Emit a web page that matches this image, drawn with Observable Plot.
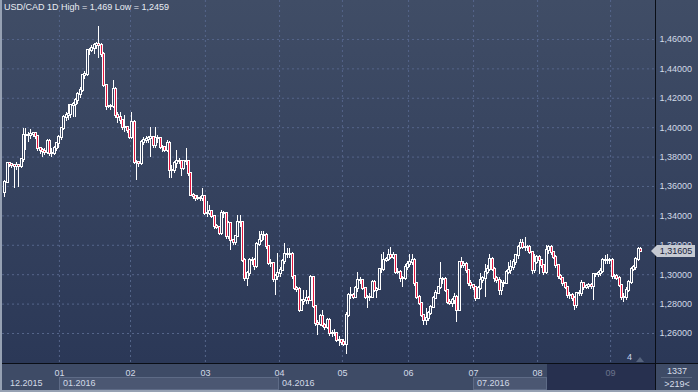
<!DOCTYPE html>
<html><head><meta charset="utf-8">
<script src="https://cdn.jsdelivr.net/npm/d3@7"></script>
<script src="https://cdn.jsdelivr.net/npm/@observablehq/plot@0.6"></script>
<style>
html,body{margin:0;padding:0;background:#2c3956;}
#wrap{position:relative;width:698px;height:392px;overflow:hidden;font-family:"Liberation Sans",Arial,sans-serif;font-size:9px;}
.abs{position:absolute;box-sizing:border-box;white-space:nowrap;}
</style></head>
<body><div id="wrap"></div>
<script>
// ---- data ----
const title = "USD/CAD 1D High = 1,469 Low = 1,2459";
const firstOpen = 1.3562;
const close = [
1.3629,1.3754,1.3749,1.3742,1.3736,1.3740,1.3736,1.3781,1.3946,1.3950,1.3946,
1.3953,1.3957,1.3939,1.3855,1.3844,1.3840,1.3833,1.3907,1.3821,1.3826,
1.3855,1.3889,1.3934,1.3991,1.4070,1.4081,1.4093,1.4149,1.4160,1.4183,
1.4228,1.4255,1.4353,1.4364,1.4522,1.4527,1.4540,1.4556,1.4563,1.4556,1.4500,
1.4285,1.4142,1.4142,1.4142,1.4262,1.4081,1.4066,1.4047,1.4002,1.4002,
1.3980,1.3934,1.4036,1.3765,1.3765,1.3754,1.3901,1.3912,1.3918,1.3923,1.3934,
1.3878,1.3923,1.3923,1.3867,1.3862,1.3846,1.3891,1.3710,1.3710,1.3755,
1.3767,1.3773,1.3721,1.3767,1.3771,1.3687,1.3540,1.3529,1.3515,1.3520,1.3518,
1.3533,1.3416,1.3416,1.3427,1.3393,1.3325,1.3320,1.3280,1.3416,1.3416,
1.3257,1.3348,1.3234,1.3216,1.3257,1.3352,1.3352,1.3099,1.2974,1.3008,
1.3099,1.3099,1.3053,1.3207,1.3234,1.3268,1.3268,1.3189,1.3076,1.3076,
1.2969,1.2985,1.3008,1.3031,1.3087,1.3139,1.3139,1.3139,1.2985,1.2906,
1.2899,1.2759,1.2815,1.2827,1.2838,1.2827,1.2981,1.2781,1.2667,1.2664,
1.2714,1.2655,1.2640,1.2689,1.2599,1.2599,1.2603,1.2554,1.2554,1.2542,
1.2527,1.2723,1.2858,1.2858,1.2847,1.2903,1.2959,1.2959,1.2903,1.2847,
1.2842,1.2847,1.2948,1.2892,1.2896,1.3032,1.3032,1.3095,1.3106,
1.3128,1.3117,1.3128,1.3016,1.3016,1.2971,1.2971,1.3050,1.3072,1.3083,
1.3095,1.2937,1.2847,1.2802,1.2723,1.2689,1.2700,1.2734,1.2779,
1.2835,1.2869,1.2910,1.2964,1.2964,1.2892,1.2813,1.2806,1.2824,
1.2847,1.2757,1.3083,1.3061,1.3072,1.3027,1.2937,1.2926,1.2910,
1.2835,1.2903,1.2959,1.2971,1.3016,1.3038,1.3106,1.3038,1.2971,1.2959,
1.2892,1.2937,1.2937,1.3016,1.3027,1.3050,1.3083,1.3128,1.3185,1.3212,
1.3185,1.3185,1.3185,1.3151,1.3027,1.3083,1.3117,1.3095,1.3061,1.3016,
1.3162,1.3185,1.3151,1.3117,1.3061,1.2986,1.2977,1.2937,1.2914,1.2858,
1.2858,1.2835,1.2790,1.2869,1.2869,1.2937,1.2914,1.2919,1.2926,1.2919,
1.3000,1.3000,1.3009,1.3023,1.3095,1.3095,1.3099,1.3099,1.2986,1.2986,
1.2977,1.2926,1.2847,1.2847,1.2892,1.2948,1.3038,1.3050,1.3106,1.3174,
1.31605
];
const high = [
1.3640,1.3765,1.3765,1.3755,1.3750,1.3760,1.3750,1.3790,1.3991,1.3996,1.3970,
1.3990,1.3970,1.3965,1.3940,1.3865,1.3860,1.3855,1.3920,1.3920,1.3860,
1.3870,1.3900,1.3945,1.4000,1.4080,1.4100,1.4160,1.4160,1.4170,1.4200,
1.4240,1.4270,1.4365,1.4380,1.4535,1.4540,1.4560,1.4570,1.4580,1.4690,1.4570,
1.4510,1.4290,1.4150,1.4160,1.4323,1.4270,1.4100,1.4100,1.4050,1.4080,
1.4010,1.3990,1.4104,1.4050,1.3780,1.3770,1.3910,1.3930,1.3940,1.3940,1.4002,
1.3940,1.4002,1.3950,1.3930,1.3880,1.3870,1.3914,1.3903,1.3740,1.3770,
1.3846,1.3790,1.3780,1.3780,1.3857,1.3780,1.3690,1.3550,1.3530,1.3540,1.3530,
1.3586,1.3540,1.3495,1.3472,1.3430,1.3400,1.3340,1.3330,1.3438,1.3430,
1.3420,1.3360,1.3350,1.3240,1.3270,1.3404,1.3404,1.3360,1.3110,1.3020,
1.3110,1.3120,1.3110,1.3220,1.3291,1.3291,1.3291,1.3280,1.3200,1.3100,
1.3080,1.3000,1.3144,1.3050,1.3100,1.3212,1.3178,1.3178,1.3150,1.2990,
1.2920,1.2910,1.2830,1.2895,1.2895,1.2850,1.2995,1.2990,1.2790,1.2690,
1.2730,1.2757,1.2670,1.2700,1.2700,1.2620,1.2630,1.2610,1.2580,1.2560,
1.2560,1.2740,1.2870,1.2914,1.2870,1.2920,1.3016,1.2980,1.2970,1.2910,
1.2860,1.2870,1.2960,1.2960,1.2910,1.3040,1.3140,1.3151,1.3120,
1.3174,1.3185,1.3150,1.3140,1.3040,1.3030,1.2990,1.3070,1.3090,1.3140,
1.3140,1.3110,1.2950,1.2860,1.2810,1.2730,1.2768,1.2750,1.2790,
1.2850,1.2890,1.2920,1.3083,1.2980,1.2980,1.2900,1.2830,1.2840,
1.2870,1.2860,1.3090,1.3117,1.3090,1.3080,1.3030,1.2960,1.2930,
1.2920,1.2920,1.3005,1.2990,1.3072,1.3060,1.3140,1.3120,1.3050,1.2990,
1.2980,1.2960,1.2960,1.3030,1.3083,1.3095,1.3100,1.3140,1.3200,1.3241,
1.3241,1.3252,1.3200,1.3200,1.3160,1.3140,1.3130,1.3130,1.3100,1.3070,
1.3200,1.3200,1.3200,1.3160,1.3130,1.3070,1.3000,1.2980,1.2950,1.2920,
1.2880,1.2870,1.2850,1.2880,1.2890,1.2960,1.2950,1.2930,1.2940,1.2940,
1.3010,1.3010,1.3020,1.3040,1.3110,1.3128,1.3140,1.3110,1.3110,1.3000,
1.3000,1.2990,1.2930,1.2870,1.2910,1.2960,1.3050,1.3060,1.3120,1.3185,
1.3185
];
const low = [
1.3528,1.3618,1.3730,1.3720,1.3584,1.3710,1.3595,1.3720,1.3760,1.3844,1.3900,
1.3920,1.3930,1.3920,1.3840,1.3820,1.3799,1.3810,1.3820,1.3805,1.3800,
1.3810,1.3840,1.3860,1.3910,1.3980,1.4040,1.4050,1.4060,1.4070,1.4070,
1.4160,1.4200,1.4240,1.4330,1.4350,1.4490,1.4510,1.4500,1.4530,1.4470,1.4480,
1.4270,1.4120,1.4130,1.4120,1.4130,1.4060,1.4030,1.4020,1.3980,1.3970,
1.3960,1.3920,1.3920,1.3750,1.3641,1.3730,1.3740,1.3880,1.3890,1.3890,1.3799,
1.3860,1.3860,1.3890,1.3850,1.3830,1.3830,1.3830,1.3653,1.3653,1.3690,
1.3720,1.3750,1.3665,1.3710,1.3740,1.3670,1.3530,1.3510,1.3500,1.3505,1.3500,
1.3500,1.3400,1.3390,1.3400,1.3380,1.3310,1.3310,1.3270,1.3270,1.3380,
1.3240,1.3240,1.3166,1.3200,1.3200,1.3250,1.3320,1.3080,1.2955,1.2917,
1.2990,1.3060,1.3030,1.3040,1.3190,1.3220,1.3230,1.3170,1.3060,1.3050,
1.2950,1.2861,1.2960,1.2980,1.3020,1.3070,1.3110,1.3110,1.2970,1.2890,
1.2880,1.2740,1.2747,1.2790,1.2800,1.2800,1.2820,1.2770,1.2650,1.2589,
1.2650,1.2640,1.2620,1.2630,1.2580,1.2570,1.2580,1.2540,1.2509,1.2520,
1.2510,1.2459,1.2710,1.2830,1.2830,1.2840,1.2880,1.2930,1.2890,1.2830,
1.2768,1.2820,1.2840,1.2880,1.2835,1.2890,1.3010,1.3020,1.3080,
1.3090,1.3100,1.3100,1.3000,1.3000,1.2950,1.2910,1.2960,1.3030,1.3050,
1.3060,1.2920,1.2830,1.2790,1.2710,1.2655,1.2655,1.2680,1.2720,
1.2770,1.2830,1.2870,1.2900,1.2930,1.2880,1.2800,1.2790,1.2780,
1.2800,1.2678,1.2750,1.3040,1.3040,1.3010,1.2920,1.2900,1.2890,
1.2820,1.2830,1.2890,1.2940,1.2847,1.3000,1.3020,1.3020,1.2950,1.2940,
1.2858,1.2858,1.2910,1.2930,1.3000,1.3000,1.3030,1.3060,1.3100,1.3170,
1.3170,1.3160,1.3160,1.3140,1.3000,1.3010,1.3070,1.3000,1.3040,1.2995,
1.3000,1.3140,1.3130,1.3100,1.3040,1.2970,1.2960,1.2920,1.2900,1.2840,
1.2830,1.2820,1.2757,1.2768,1.2850,1.2850,1.2890,1.2900,1.2900,1.2900,
1.2824,1.2980,1.2980,1.2990,1.3010,1.3070,1.3070,1.3070,1.2970,1.2970,
1.2960,1.2910,1.2824,1.2813,1.2824,1.2880,1.2930,1.3020,1.3030,1.3090,
1.3150
];
const monthTicks = [23.2, 53.4, 85.2, 116.7, 143.4, 171.5, 199.1, 226.3, 257.3];
const monthLabels = ["01","02","03","04","05","06","07","08","09"];
const periodLabels = ["12.2015","01.2016","04.2016","07.2016"];
const yTicks = [1.26,1.28,1.30,1.32,1.34,1.36,1.38,1.40,1.42,1.44,1.46];
const lastPrice = 1.31605;
const barsLabel = "4";
const footerTop = "1337";
const footerBottom = ">219<";
const shadeStart = 230.5;

// ---- build ----
const n = Math.min(close.length, high.length, low.length);
const candles = [];
for (let i = 0; i < n; i++) {
  const o = i === 0 ? firstOpen : close[i - 1];
  const c = close[i];
  candles.push({i, o, c, h: high[i], l: low[i], top: Math.max(o, c), bot: Math.min(o, c), down: c < o});
}
const fmt = d => d.toFixed(5).replace(".", ",");
const gridColor = "#55658a";
const labelColor = "#d2dae7";

const chart = Plot.plot({
  width: 698, height: 392,
  marginLeft: 2, marginRight: 43, marginTop: 0, marginBottom: 29,
  style: {background: "transparent", fontFamily: "'Liberation Sans', Arial, sans-serif", fontSize: "9px", overflow: "visible"},
  x: {type: "linear", domain: [-0.977, 276.38], label: null},
  y: {domain: [1.2396, 1.4865], label: null},
  marks: [
    Plot.gridY(yTicks, {stroke: gridColor, strokeOpacity: 1, strokeDasharray: "2,3"}),
    Plot.gridX(monthTicks, {stroke: gridColor, strokeOpacity: 1, strokeDasharray: "2,3"}),
    Plot.ruleX(candles, {x: "i", y1: "h", y2: "l", stroke: "#ffffff", strokeWidth: 1, shapeRendering: "crispEdges"}),
    Plot.ruleX(candles, {x: "i", y1: "top", y2: "bot", stroke: "#ffffff", strokeWidth: 3, insetTop: -1, insetBottom: -1, shapeRendering: "crispEdges"}),
    Plot.ruleX(candles.filter(d => d.down), {x: "i", y1: "top", y2: "bot", stroke: "#e3163e", strokeWidth: 1, shapeRendering: "crispEdges"}),
    Plot.ruleX(candles.filter(d => !d.down), {x: "i", y1: "top", y2: "bot", stroke: "#34425f", strokeWidth: 1, shapeRendering: "crispEdges"}),
    Plot.axisY(yTicks, {anchor: "right", tickSize: 0, tickPadding: 4, tickFormat: fmt, fill: labelColor, fontSize: 9}),
    Plot.axisX(monthTicks, {anchor: "bottom", tickSize: 0, tickPadding: 6, tickFormat: d => monthLabels[monthTicks.indexOf(d)], fill: labelColor, fontSize: 9})
  ]
});

const wrap = document.getElementById("wrap");
function add(css, text) {
  const el = document.createElement("div");
  el.className = "abs";
  el.style.cssText = css;
  if (text != null) el.textContent = text;
  wrap.appendChild(el);
  return el;
}
const X = v => chart.scale("x").apply(v);
const Y = v => chart.scale("y").apply(v);

// backgrounds
add("left:0;top:0;width:655px;height:363px;background:linear-gradient(#404d66,#2b3857);");
add("left:655px;top:0;width:43px;height:363px;background:linear-gradient(#404d66,#2b3857);");
add("left:0;top:363px;width:698px;height:29px;background:#3e4b66;");
// period boxes
const b1 = X(monthTicks[0]), b2 = X(monthTicks[3]), b3 = X(monthTicks[6]), sx = X(shadeStart);
add(`left:${b1}px;top:377px;width:${b2 - b1}px;height:13px;background:#4b5772;border:1px solid #5e6b86;`);
add(`left:${b3}px;top:377px;width:${sx - b3}px;height:13px;background:#4b5772;border:1px solid #5e6b86;`);
// svg
chart.style.position = "absolute";
chart.style.left = "0px";
chart.style.top = "0px";
wrap.appendChild(chart);
// period labels
add(`left:10px;top:378px;color:${labelColor};line-height:11px;`, periodLabels[0]);
add(`left:${b1 + 4}px;top:378px;color:${labelColor};line-height:11px;`, periodLabels[1]);
add(`left:${b2 + 3}px;top:378px;color:${labelColor};line-height:11px;`, periodLabels[2]);
add(`left:${b3 + 4}px;top:378px;color:${labelColor};line-height:11px;`, periodLabels[3]);
// dark shading
add(`left:${sx}px;top:364px;width:${655 - sx}px;height:28px;background:rgba(20,28,60,0.55);`);
// separators
add("left:655px;top:0;width:1px;height:392px;background:#0a0e16;");
add("left:0;top:363px;width:698px;height:1px;background:#0a0e16;");
add("left:0;top:0;width:2px;height:392px;background:#96a1b3;");
add("left:0;top:390px;width:698px;height:2px;background:#96a1b3;");
// title
add("left:4px;top:2px;color:#e8ecf3;line-height:11px;", title);
// bars label
add(`left:627px;top:352px;color:#c8d6ee;line-height:11px;`, barsLabel);
add("left:636px;top:357px;width:0;height:0;border-left:4px solid transparent;border-right:4px solid transparent;border-bottom:5px solid #56647e;");
// price label
const py = Y(lastPrice);
add(`left:651px;top:${py - 6}px;width:0;height:0;border-top:6px solid transparent;border-bottom:6px solid transparent;border-right:6px solid #c6cad2;`);
add(`left:657px;top:${py - 6}px;width:38px;height:12px;background:#c6cad2;color:#18223a;line-height:12px;text-align:center;`, fmt(lastPrice));
// footer right
add(`left:656px;top:366px;width:42px;text-align:center;color:#d6dde9;line-height:11px;`, footerTop);
add("left:661px;top:377px;width:31px;height:1px;background:#5b6881;");
add(`left:656px;top:379px;width:42px;text-align:center;color:#d6dde9;line-height:11px;`, footerBottom);
</script>
</body></html>
